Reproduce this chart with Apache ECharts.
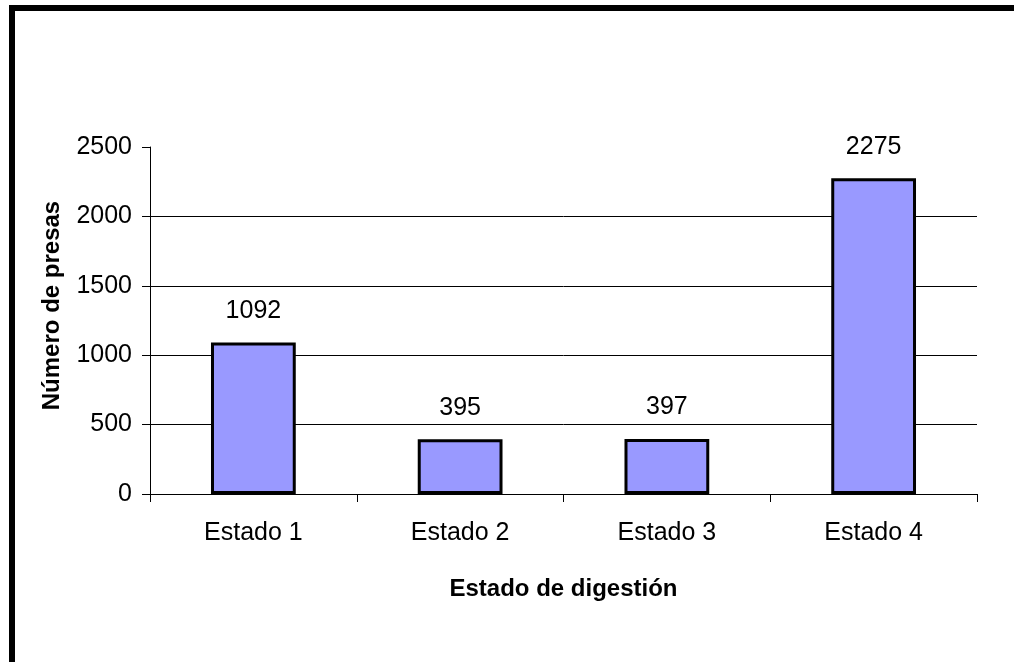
<!DOCTYPE html>
<html>
<head>
<meta charset="utf-8">
<script src="https://cdn.jsdelivr.net/npm/echarts@6/dist/echarts.min.js"></script>
<style>
  html, body { margin: 0; padding: 0; background: #fff; }
  #chart { width: 1014px; height: 662px; }
</style>
</head>
<body>
<div id="chart"></div>
<script>
// datos
const categorias = ['Estado 1', 'Estado 2', 'Estado 3', 'Estado 4']
const presas = [1092, 395, 397, 2275]
const ticksY = [0, 500, 1000, 1500, 2000, 2500]

const fuente = 'Liberation Sans, Arial, sans-serif'
const chart = echarts.init(document.getElementById('chart'))

const option = {
  backgroundColor: '#fff',
  animation: false,
  // marco negro (arriba e izquierda)
  graphic: [
    { type: 'rect', shape: { x: 9, y: 5, width: 1005, height: 6 }, style: { fill: '#000' } },
    { type: 'rect', shape: { x: 9, y: 5, width: 6, height: 657 }, style: { fill: '#000' } },
  ],
  grid: { left: 150, right: 37, top: 147, bottom: 168 },
  xAxis: {
    type: 'category',
    data: categorias,
    name: 'Estado de digestión',
    nameLocation: 'middle',
    nameGap: 83,
    nameTextStyle: { fontFamily: fuente, fontSize: 24, fontWeight: 'bold', color: '#000' },
    axisLine: { lineStyle: { color: '#000', width: 1 } },
    axisTick: { show: true, length: 8, lineStyle: { color: '#000' } },
    axisLabel: { fontFamily: fuente, fontSize: 25, color: '#000', margin: 27 },
  },
  yAxis: {
    type: 'value',
    min: ticksY[0],
    max: ticksY[ticksY.length - 1],
    interval: 500,
    name: 'Número de presas',
    nameLocation: 'middle',
    nameGap: 86,
    nameTextStyle: {
      fontFamily: fuente, fontSize: 24, fontWeight: 'bold', color: '#000',
      padding: [0, 0, 0, 30],
    },
    axisLine: { show: true, lineStyle: { color: '#000', width: 1 } },
    axisTick: { show: true, length: 8, lineStyle: { color: '#000' } },
    axisLabel: {
      fontFamily: fuente, fontSize: 25, color: '#000', margin: 18,
      formatter: (v) => String(v),
    },
    splitLine: { show: true, showMaxLine: false, lineStyle: { color: '#000', width: 1 } },
  },
  series: [
    {
      type: 'bar',
      data: presas,
      barWidth: '41%',
      itemStyle: { color: '#9999ff', borderColor: '#000', borderWidth: 3 },
      label: {
        show: true,
        position: 'top',
        distance: 19,
        fontFamily: fuente,
        fontSize: 25,
        color: '#000',
      },
    },
  ],
}

chart.setOption(option)
</script>
</body>
</html>
